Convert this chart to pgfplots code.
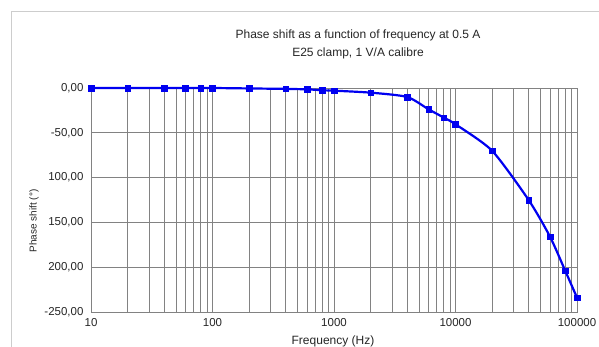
\documentclass[border=0pt]{standalone}
\usepackage{pgfplots}
\pgfplotsset{compat=1.18}
\usepackage{fontspec}
\setmainfont{Liberation Sans}
\definecolor{gridgray}{RGB}{130,130,130}
\definecolor{framegray}{RGB}{205,205,205}
\definecolor{serieblue}{RGB}{0,0,240}
\begin{document}
\begin{tikzpicture}
  \useasboundingbox (0pt,0pt) rectangle (599pt,347pt);
  \fill[white] (0pt,0pt) rectangle (599pt,347pt);
  % chart frame (right and bottom edges lie outside the page)
  \draw[framegray, line width=1.4pt] (11.5pt,-10pt) -- (11.5pt,335.5pt) -- (620pt,335.5pt);

  \begin{axis}[
    at={(91pt,35pt)}, anchor=south west,
    scale only axis,
    width=486pt, height=224pt,
    xmode=log, log basis x=10,
    xmin=10, xmax=100000,
    ymin=-250, ymax=0,
    xtick={10,100,1000,10000,100000},
    xticklabels={10,100,1000,10000,100000},
    minor xtick={20,30,40,50,60,70,80,90,
                 200,300,400,500,600,700,800,900,
                 2000,3000,4000,5000,6000,7000,8000,9000,
                 20000,30000,40000,50000,60000,70000,80000,90000},
    ytick={-250,-200,-150,-100,-50,0},
    yticklabels={{-250,00},{200,00},{150,00},{100,00},{-50,00},{0,00}},
    xmajorgrids, xminorgrids, ymajorgrids,
    major grid style={gridgray, line width=0.7pt},
    minor grid style={gridgray, line width=0.7pt},
    axis line style={gridgray, line width=0.7pt},
    major tick length=0pt, minor tick length=0pt,
    tick label style={font=\fontsize{11.5}{12}\selectfont, text=black!85},
    yticklabel style={xshift=-4pt},
    xticklabel style={yshift=-3pt},
    clip=false,
  ]
    \addplot[serieblue, line width=2.2pt, smooth, tension=0.4,
             mark=square*, mark size=2.8pt, mark options={solid, fill=serieblue, line width=0.5pt}]
      coordinates {
        (10,0) (20,0) (40,0) (60,0) (80,0) (100,0)
        (200,-0.5) (400,-1) (600,-1.5) (800,-2.5) (1000,-3)
        (2000,-5.2) (4000,-10) (6000,-23.8) (8000,-33) (10000,-40.5)
        (20000,-70) (40000,-125) (60000,-166) (80000,-204) (100000,-234)
      };
  \end{axis}

  \node[font=\fontsize{12}{13}\selectfont, text=black!85] at (358pt,312pt) {Phase shift as a function of frequency at 0.5 A};
  \node[font=\fontsize{12}{13}\selectfont, text=black!85] at (358pt,294pt) {E25 clamp, 1 V/A calibre};
  \node[font=\fontsize{12}{13}\selectfont, text=black!85] at (333pt,6pt) {Frequency (Hz)};
  \node[font=\fontsize{10}{11}\selectfont, text=black!85, rotate=90] at (34pt,126pt) {Phase shift (°)};
\end{tikzpicture}
\end{document}
